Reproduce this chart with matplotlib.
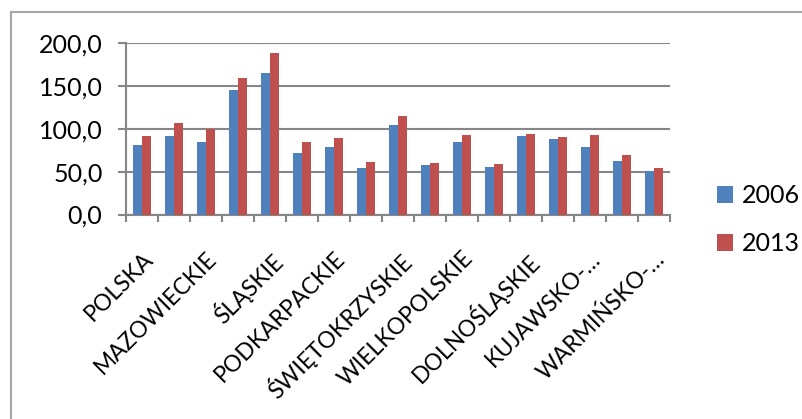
import numpy as np
import matplotlib.pyplot as plt
import matplotlib.transforms as mtransforms
from matplotlib.lines import Line2D
from matplotlib.ticker import FuncFormatter

plt.rcParams['font.family'] = ['Lato', 'DejaVu Sans']

# regions shown on the axis (every second category carries a label)
labels = ['POLSKA', 'MAZOWIECKIE', 'ŚLĄSKIE', 'PODKARPACKIE', 'ŚWIĘTOKRZYSKIE',
          'WIELKOPOLSKIE', 'DOLNOŚLĄSKIE', 'KUJAWSKO-…', 'WARMIŃSKO-…']
years = ['2006', '2013']
v2006 = [81.2, 92.0, 84.3, 145.2, 164.3, 72.2, 78.8, 54.0, 103.7,
         57.1, 84.3, 55.1, 90.9, 88.5, 78.4, 62.1, 50.1]
v2013 = [90.9, 106.0, 99.4, 158.8, 188.0, 84.3, 88.9, 61.7, 114.6,
         59.8, 92.4, 59.0, 94.0, 90.1, 92.4, 69.5, 53.6]
colors = ['#4F81BD', '#C0504D']
grid_c = '#868686'

fig = plt.figure(figsize=(8.03, 4.19), dpi=100)
ax = fig.add_axes([0.157, 0.488, 0.677, 0.41])

x = np.arange(len(v2006))
w = 0.28
ax.bar(x - w / 2, v2006, w, color=colors[0], label=years[0], zorder=3)
ax.bar(x + w / 2, v2013, w, color=colors[1], label=years[1], zorder=3)

ax.set_xlim(-0.5, len(x) - 0.5)
ax.set_ylim(0, 200)
ax.set_yticks(np.arange(0, 201, 50))
ax.yaxis.set_major_formatter(FuncFormatter(lambda v, p: f'{v:.1f}'.replace('.', ',')))
ax.grid(axis='y', color=grid_c, linewidth=1.5, zorder=0)

# tick marks at category boundaries, labels at every second category
ax.set_xticks(np.arange(-0.5, len(x), 1.0))
ax.set_xticklabels([])
ax.set_xticks(x[::2], minor=True)
ax.set_xticklabels(labels, minor=True, rotation=45, ha='right', va='top',
                   rotation_mode='anchor', fontsize=16.5)
shift = mtransforms.ScaledTranslation(4 / 100, 0, fig.dpi_scale_trans)
for t in ax.get_xticklabels(minor=True):
    t.set_transform(t.get_transform() + shift)
ax.tick_params(axis='x', which='minor', length=0, pad=24)
ax.tick_params(axis='x', which='major', length=5, width=1.5, color=grid_c)
ax.tick_params(axis='y', length=6, width=1.5, color=grid_c, labelsize=18, pad=11)

for s in ['top', 'right']:
    ax.spines[s].set_visible(False)
for s in ['left', 'bottom']:
    ax.spines[s].set_color(grid_c)
    ax.spines[s].set_linewidth(1.5)

ax.legend(loc='center left', bbox_to_anchor=(1.045, -0.03), frameon=False,
          fontsize=18, handlelength=0.65, handleheight=0.65, handletextpad=0.35,
          labelspacing=1.0)

# chart frame
fig.add_artist(Line2D([11 / 803, 11 / 803], [0, 1 - 12 / 419], transform=fig.transFigure,
                      color='#A6A6A6', linewidth=1.5))
fig.add_artist(Line2D([11 / 803, 1], [1 - 12 / 419, 1 - 12 / 419], transform=fig.transFigure,
                      color='#A6A6A6', linewidth=1.5))

fig.savefig('out.png', dpi=100)
